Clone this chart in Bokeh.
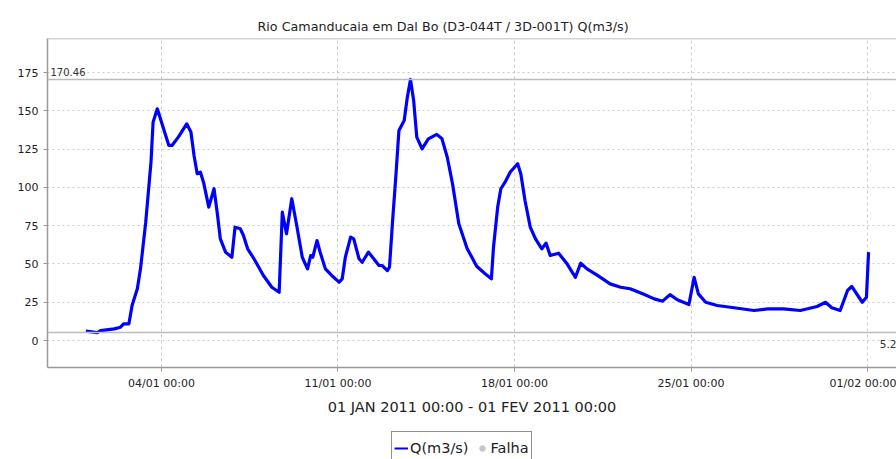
from datetime import datetime, timedelta

import pandas as pd
from bokeh.embed import file_html
from bokeh.layouts import column
from bokeh.models import (ColumnDataSource, DatetimeTickFormatter, FixedTicker,
                          Label, Legend, Range1d, Span)
from bokeh.plotting import figure
from bokeh.resources import INLINE

# Discharge readings
times = [
    "2011-01-01 00:00", "2011-01-01 11:00", "2011-01-01 14:00", "2011-01-02 03:00",
    "2011-01-02 09:00", "2011-01-02 12:00", "2011-01-02 17:00", "2011-01-02 20:00",
    "2011-01-03 01:00", "2011-01-03 04:00", "2011-01-03 09:00", "2011-01-03 14:00",
    "2011-01-03 16:00", "2011-01-03 20:00", "2011-01-04 01:00", "2011-01-04 07:00",
    "2011-01-04 10:00", "2011-01-04 16:00", "2011-01-05 00:00", "2011-01-05 04:00",
    "2011-01-05 07:00", "2011-01-05 10:00", "2011-01-05 13:00", "2011-01-05 16:00",
    "2011-01-05 21:00", "2011-01-06 02:00", "2011-01-06 05:00", "2011-01-06 08:00",
    "2011-01-06 13:00", "2011-01-06 19:00", "2011-01-06 22:00", "2011-01-07 03:00",
    "2011-01-07 06:00", "2011-01-07 10:00", "2011-01-07 16:00", "2011-01-08 01:00",
    "2011-01-08 09:00", "2011-01-08 16:00", "2011-01-08 19:00", "2011-01-08 23:00",
    "2011-01-09 04:00", "2011-01-09 09:00", "2011-01-09 14:00", "2011-01-09 19:00",
    "2011-01-09 22:00", "2011-01-10 00:00", "2011-01-10 04:00", "2011-01-10 07:00",
    "2011-01-10 12:00", "2011-01-10 18:00", "2011-01-11 01:00", "2011-01-11 04:00",
    "2011-01-11 07:00", "2011-01-11 12:00", "2011-01-11 15:00", "2011-01-11 20:00",
    "2011-01-11 23:00", "2011-01-12 05:00", "2011-01-12 10:00", "2011-01-12 15:00",
    "2011-01-12 18:00", "2011-01-12 23:00", "2011-01-13 01:00", "2011-01-13 04:00",
    "2011-01-13 07:00", "2011-01-13 10:00", "2011-01-13 15:00", "2011-01-13 18:00",
    "2011-01-13 21:00", "2011-01-14 00:00", "2011-01-14 03:00", "2011-01-14 08:00",
    "2011-01-14 14:00", "2011-01-14 22:00", "2011-01-15 03:00", "2011-01-15 08:00",
    "2011-01-15 13:00", "2011-01-15 19:00", "2011-01-16 03:00", "2011-01-16 12:00",
    "2011-01-16 20:00", "2011-01-17 02:00", "2011-01-17 04:00", "2011-01-17 08:00",
    "2011-01-17 11:00", "2011-01-17 15:00", "2011-01-17 20:00", "2011-01-18 03:00",
    "2011-01-18 06:00", "2011-01-18 10:00", "2011-01-18 15:00", "2011-01-18 20:00",
    "2011-01-19 02:00", "2011-01-19 06:00", "2011-01-19 10:00", "2011-01-19 18:00",
    "2011-01-20 02:00", "2011-01-20 10:00", "2011-01-20 15:00", "2011-01-20 21:00",
    "2011-01-21 07:00", "2011-01-21 19:00", "2011-01-22 05:00", "2011-01-22 14:00",
    "2011-01-23 02:00", "2011-01-23 13:00", "2011-01-23 21:00", "2011-01-24 04:00",
    "2011-01-24 11:00", "2011-01-24 22:00", "2011-01-25 03:00", "2011-01-25 07:00",
    "2011-01-25 14:00", "2011-01-26 01:00", "2011-01-26 17:00", "2011-01-27 12:00",
    "2011-01-28 01:00", "2011-01-28 16:00", "2011-01-29 08:00", "2011-01-30 00:00",
    "2011-01-30 08:00", "2011-01-30 14:00", "2011-01-30 22:00", "2011-01-31 05:00",
    "2011-01-31 09:00", "2011-01-31 19:00", "2011-01-31 23:00", "2011-02-01 01:00",
]
flow = [
    6.1, 5.2, 6.5, 7.6,
    8.7, 10.9, 10.9, 22.9,
    33.8, 46.8, 77.3, 116.5,
    142.6, 151.3, 140.4, 127.4,
    127.4, 132.8, 141.5, 136.1,
    120.8, 108.9, 110.0, 103.4,
    87.1, 99.1, 83.8, 66.4,
    57.7, 54.4, 74.0, 73.0,
    68.6, 59.9, 53.4, 42.5,
    34.8, 31.5, 83.8, 69.7,
    92.6, 74.0, 54.4, 46.8,
    55.5, 54.4, 65.3, 57.7,
    46.8, 42.5, 38.1, 40.3,
    54.4, 67.5, 66.4, 53.4,
    51.1, 57.7, 53.4, 49.0,
    49.0, 45.7, 47.9, 78.4,
    106.7, 137.2, 143.7, 158.9,
    170.46, 156.8, 132.8, 125.2,
    131.7, 134.6, 131.7, 119.7,
    102.4, 76.2, 60.0, 48.5,
    43.6, 40.3, 60.9, 87.1,
    99.1, 103.4, 110.0, 115.4,
    108.9, 91.4, 74.0, 66.4,
    59.9, 63.6, 55.5, 57.0,
    50.1, 41.3, 50.5, 46.8,
    42.5, 37.0, 34.8, 33.8,
    30.5, 27.2, 25.7, 30.0,
    26.6, 23.5, 41.3, 30.5,
    25.0, 22.9, 21.4, 19.6,
    20.7, 20.7, 19.6, 22.2,
    25.0, 21.4, 19.6, 32.7,
    35.3, 25.0, 28.3, 57.7,
]
q_max = 170.46
q_min = 5.2
tick_dates = ["2011-01-04", "2011-01-11", "2011-01-18", "2011-01-25", "2011-02-01"]
y_ticks = [0, 25, 50, 75, 100, 125, 150, 175]

FONT = "DejaVu Sans"


def ms(t):
    return pd.Timestamp(t).value / 1e6


source = ColumnDataSource(dict(t=pd.to_datetime(times), q=flow))

x_start = datetime(2011, 1, 4) - timedelta(days=4.521)
x_end = datetime(2011, 2, 1) + timedelta(days=1.15)
y_start, y_end = -17.6, 197.2

p = figure(
    width=896, height=427,
    x_axis_type="datetime",
    x_range=Range1d(x_start, x_end),
    y_range=Range1d(y_start, y_end),
    toolbar_location=None,
    output_backend="svg",
    min_border_left=47, min_border_right=0,
    min_border_top=38, min_border_bottom=60,
    title="Rio Camanducaia em Dal Bo (D3-044T / 3D-001T) Q(m3/s)",
)
p.title.align = "left"
p.title.offset = 210
p.title.text_font = FONT
p.title.text_font_size = "12.7px"
p.title.text_font_style = "normal"
p.title.text_color = "#222222"
p.outline_line_color = None

# axes
p.xaxis.ticker = FixedTicker(ticks=[ms(d) for d in tick_dates])
p.xaxis.formatter = DatetimeTickFormatter(
    days="%d/%m %H:%M", months="%d/%m %H:%M", hours="%d/%m %H:%M")
p.yaxis.ticker = FixedTicker(ticks=y_ticks)
p.xaxis.axis_label = "01 JAN 2011 00:00 - 01 FEV 2011 00:00"
p.xaxis.axis_label_text_font = FONT
p.xaxis.axis_label_text_font_size = "14.5px"
p.xaxis.axis_label_text_font_style = "normal"
p.xaxis.axis_label_text_color = "#222222"
p.xaxis.axis_label_standoff = 6
for ax in (p.xaxis, p.yaxis):
    ax.axis_line_color = "#999999"
    ax.axis_line_width = 1.5
    ax.major_tick_line_color = "#999999"
    ax.major_tick_in = 0
    ax.major_tick_out = 4
    ax.minor_tick_line_color = None
    ax.major_label_text_font = FONT
    ax.major_label_text_font_size = "11px"
    ax.major_label_text_color = "#222222"
p.xaxis.major_label_standoff = 5
p.yaxis.major_label_standoff = 5

p.xgrid.grid_line_color = "#cccccc"
p.xgrid.grid_line_dash = "3 3"
p.ygrid.grid_line_color = "#cccccc"
p.ygrid.grid_line_dash = "2 3"

# top border of plot area
p.add_layout(Span(location=y_end, dimension="width", line_color="#aaaaaa", line_width=1.5))

# max / min reference lines
p.add_layout(Span(location=q_max, dimension="width", line_color="#bbbbbb", line_width=1.5))
p.add_layout(Span(location=q_min, dimension="width", line_color="#bbbbbb", line_width=1.5))
p.add_layout(Label(x=ms(x_start), y=q_max, text="170.46", x_offset=3, y_offset=3,
                   text_font=FONT, text_font_size="10px", text_color="#333333"))
p.add_layout(Label(x=ms(x_end), y=q_min, text="5.2", x_offset=0, y_offset=-15,
                   text_align="right", text_font=FONT, text_font_size="10.5px",
                   text_color="#333333"))

p.line("t", "q", source=source, line_color="#0000ff", line_width=3.2,
       line_join="round")

# legend strip below the chart (its frame is aligned with the chart's frame)
leg = figure(
    width=896, height=32,
    x_range=Range1d(0, 1), y_range=Range1d(0, 1),
    toolbar_location=None, output_backend="svg",
    x_axis_location=None, y_axis_location=None,
    min_border=0,
)
leg.outline_line_color = None
leg.grid.visible = False
leg_line = leg.line(x=[5, 6], y=[5, 5], line_color="#0000ff", line_width=2)
leg_falha = leg.scatter(x=[5], y=[5], size=8, color="#c8c8c8")

legend = Legend(
    items=[("Q(m3/s)", [leg_line]), ("Falha", [leg_falha])],
    orientation="horizontal",
    location=(344, -6),
    border_line_color="#222222",
    border_line_width=1,
    label_text_font=FONT,
    label_text_font_size="14.5px",
    label_text_color="#222222",
    label_height=28,
    glyph_height=28,
    glyph_width=14,
    label_standoff=2,
    spacing=6,
    padding=2,
    margin=0,
)
leg.add_layout(legend, "center")

open("out.html", "w").write(file_html(column(p, leg, spacing=0), INLINE))
